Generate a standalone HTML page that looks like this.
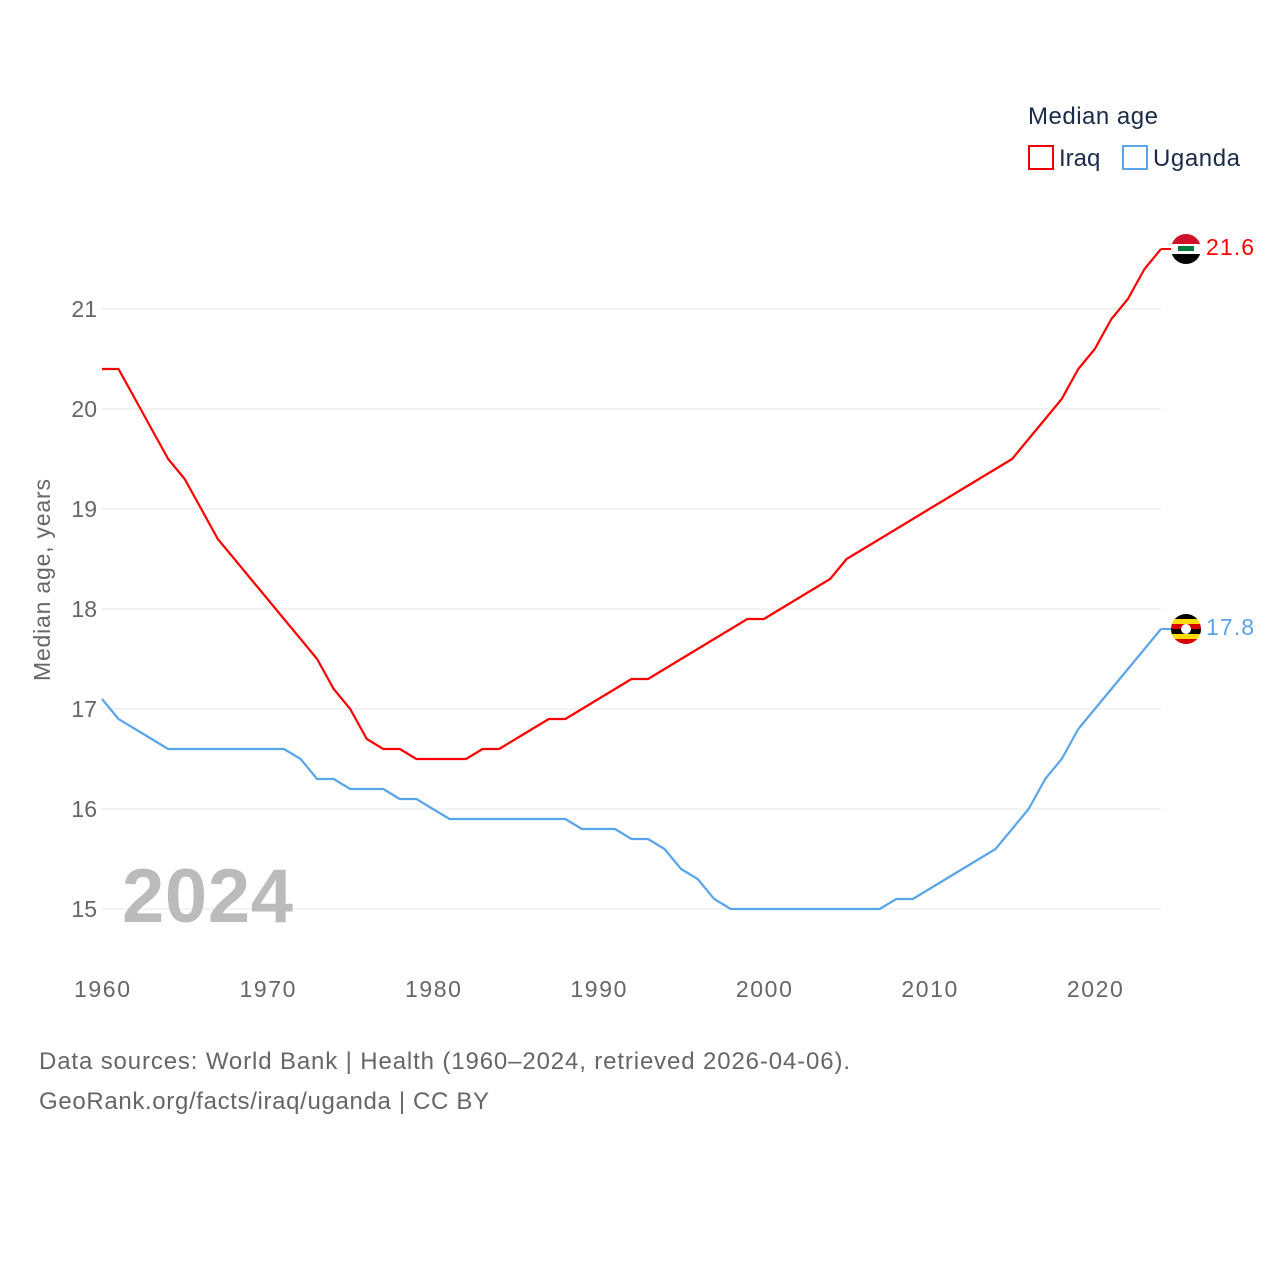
<!DOCTYPE html>
<html><head><meta charset="utf-8"><style>
body{margin:0;background:#fff;font-family:"Liberation Sans",sans-serif}
svg text{font-family:"Liberation Sans",sans-serif}
</style></head><body>
<svg id="chart" width="1280" height="1280" viewBox="0 0 1280 1280" xmlns="http://www.w3.org/2000/svg">
<g id="grid"></g>
<g id="yticks"></g>
<g id="xticks"></g>
<text x="50" y="580" transform="rotate(-90 50 580)" text-anchor="middle" font-size="23" fill="#666" textLength="202">Median age, years</text>
<text x="122" y="922" font-size="76" font-weight="bold" fill="#bbb" textLength="171">2024</text>
<g id="lines"></g>
<g>
<text x="1028" y="124" font-size="24" fill="#1a2b4a" textLength="130">Median age</text>
<g><rect x="1029" y="146" width="24" height="23" fill="none" stroke="#e00" stroke-width="2"/><text x="1059" y="166" font-size="24" fill="#1a2b4a">Iraq</text></g>
<g><rect x="1123" y="146" width="24" height="23" fill="none" stroke="#5aa5ea" stroke-width="2"/><text x="1153" y="166" font-size="24" fill="#1a2b4a" textLength="87">Uganda</text></g>
</g>
<text x="39" y="1069" font-size="24" fill="#666" textLength="811">Data sources: World Bank | Health (1960–2024, retrieved 2026-04-06).</text>
<text x="39" y="1109" font-size="24" fill="#666" textLength="450">GeoRank.org/facts/iraq/uganda | CC BY</text>
</svg>
<script>
const years=[];for(let y=1960;y<=2024;y++)years.push(y);
const iraq=[20.4,20.4,20.1,19.8,19.5,19.3,19.0,18.7,18.5,18.3,18.1,17.9,17.7,17.5,17.2,17.0,16.7,16.6,16.6,16.5,16.5,16.5,16.5,16.6,16.6,16.7,16.8,16.9,16.9,17.0,17.1,17.2,17.3,17.3,17.4,17.5,17.6,17.7,17.8,17.9,17.9,18.0,18.1,18.2,18.3,18.5,18.6,18.7,18.8,18.9,19.0,19.1,19.2,19.3,19.4,19.5,19.7,19.9,20.1,20.4,20.6,20.9,21.1,21.4,21.6];
const uganda=[17.1,16.9,16.8,16.7,16.6,16.6,16.6,16.6,16.6,16.6,16.6,16.6,16.5,16.3,16.3,16.2,16.2,16.2,16.1,16.1,16.0,15.9,15.9,15.9,15.9,15.9,15.9,15.9,15.9,15.8,15.8,15.8,15.7,15.7,15.6,15.4,15.3,15.1,15.0,15.0,15.0,15.0,15.0,15.0,15.0,15.0,15.0,15.0,15.1,15.1,15.2,15.3,15.4,15.5,15.6,15.8,16.0,16.3,16.5,16.8,17.0,17.2,17.4,17.6,17.8];
const yTicks=[15,16,17,18,19,20,21];
const xTicks=[1960,1970,1980,1990,2000,2010,2020];
const NS='http://www.w3.org/2000/svg';
const xs=y=>102+(y-1960)*(1161-102)/64;
const ys=v=>909-(v-15)*100;
function mk(t,a,p){const e=document.createElementNS(NS,t);for(const k in a)e.setAttribute(k,a[k]);p.appendChild(e);return e;}
const grid=document.getElementById('grid'),yt=document.getElementById('yticks'),xt=document.getElementById('xticks'),lines=document.getElementById('lines');
yTicks.forEach(v=>{
 const l=mk('line',{x1:102,x2:1161,y1:ys(v),y2:ys(v),stroke:'#e6e6e6','stroke-width':1},grid);
 
 
 const t=mk('text',{x:97,y:ys(v)+8,'text-anchor':'end','font-size':23,fill:'#666'},yt);
 
 
 t.textContent=v;
});
xTicks.forEach(v=>{
 const t=mk('text',{x:xs(v),y:997,'text-anchor':'middle','font-size':23,fill:'#666',textLength:56},xt);
 
 
 t.textContent=v;
});
function series(vals,color,name){
 const d=vals.map((v,i)=>(i?'L':'M')+xs(years[i]).toFixed(1)+','+ys(v).toFixed(1)).join('');
 const p=mk('path',{d:d,fill:'none',stroke:color,'stroke-width':2.2,'stroke-linejoin':'round'},lines);
 
 
 const last=vals[vals.length-1],cy=ys(last);
 const g=mk('g',{},lines);
 
 
 mk('line',{x1:1161,x2:1172,y1:cy,y2:cy,stroke:color,'stroke-width':2},g);
 const cp=mk('clipPath',{id:'c'+name},g);mk('circle',{cx:1186,cy:cy,r:15},cp);
 const cols=name==='iraq'?['#ce1126','#fff','#000']:['#000','#fcdc04','#d90000','#000','#fcdc04','#d90000'];
 const h=30/cols.length;
 cols.forEach((c,i)=>mk('rect',{x:1171,y:cy-15+i*h,width:30,height:h+0.5,fill:c,'clip-path':'url(#c'+name+')'},g));
 if(name==='uganda')mk('circle',{cx:1186,cy:cy,r:5,fill:'#fff'},g);
 else mk('rect',{x:1178,y:cy-3,width:16,height:5,fill:'#007a3d'},g);
 const t=mk('text',{x:1206,y:cy+6,'font-size':23,fill:color,textLength:48},lines);
 
 
 t.textContent=last.toFixed(1);
}
series(iraq,'#ff0000','iraq');
series(uganda,'#5aa5ea','uganda');
</script>
</body></html>
